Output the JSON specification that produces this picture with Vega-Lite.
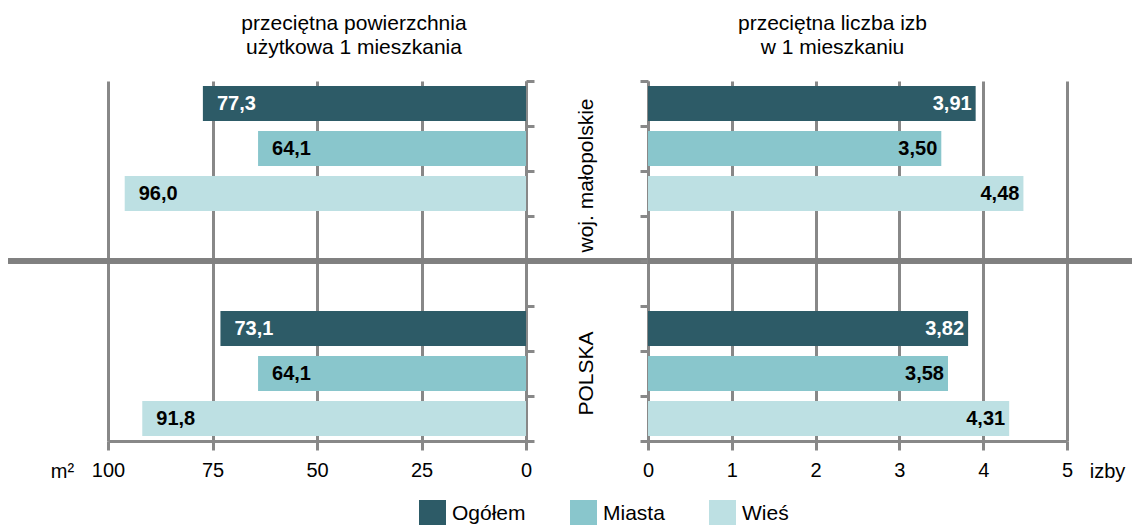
{
  "$schema": "https://vega.github.io/schema/vega-lite/v6.json",
  "padding": {"left": 5, "top": 12, "right": 0, "bottom": 0},
  "autosize": {"type": "pad"},
  "spacing": 0,
  "bounds": "flush",
  "config": {
    "locale": {"number": {"decimal": ",", "thousands": " ", "grouping": [3], "currency": ["", " zł"]}},
    "font": "Liberation Sans",
    "view": {"stroke": null},
    "axis": {
      "domainColor": "#888888", "domainWidth": 3,
      "tickColor": "#888888", "tickWidth": 3, "tickSize": 9,
      "gridColor": "#888888", "gridWidth": 3,
      "labelFont": "Liberation Sans", "labelFontSize": 20, "labelColor": "#000000", "labelFlush": false,
      "titleFont": "Liberation Sans", "titleFontSize": 20, "titleFontWeight": "normal", "titleColor": "#000000"
    },
    "title": {"font": "Liberation Sans", "fontSize": 21, "fontWeight": "normal", "color": "#000000", "lineHeight": 24}
  },
  "datasets": {
    "dane": [
      {"Region": "woj. małopolskie", "Typ": "Ogółem", "Kategoria": "woj. małopolskie|Ogółem", "pow": 77.3, "izby": 3.91},
      {"Region": "woj. małopolskie", "Typ": "Miasta", "Kategoria": "woj. małopolskie|Miasta", "pow": 64.1, "izby": 3.50},
      {"Region": "woj. małopolskie", "Typ": "Wieś", "Kategoria": "woj. małopolskie|Wieś", "pow": 96.0, "izby": 4.48},
      {"Region": "POLSKA", "Typ": "Ogółem", "Kategoria": "POLSKA|Ogółem", "pow": 73.1, "izby": 3.82},
      {"Region": "POLSKA", "Typ": "Miasta", "Kategoria": "POLSKA|Miasta", "pow": 64.1, "izby": 3.58},
      {"Region": "POLSKA", "Typ": "Wieś", "Kategoria": "POLSKA|Wieś", "pow": 91.8, "izby": 4.31}
    ]
  },
  "hconcat": [
    {
      "width": 418,
      "height": 360,
      "title": {"text": ["przeciętna powierzchnia", "użytkowa 1 mieszkania"], "anchor": "middle", "dx": 37, "offset": 22},
      "data": {"name": "dane"},
      "layer": [
        {
          "mark": {"type": "bar", "height": {"band": 0.78}},
          "encoding": {
            "y": {"field": "Kategoria", "type": "nominal",
              "scale": {"domain": ["woj. małopolskie|Ogółem", "woj. małopolskie|Miasta", "woj. małopolskie|Wieś", "gap1", "gap2", "POLSKA|Ogółem", "POLSKA|Miasta", "POLSKA|Wieś"], "paddingInner": 0, "paddingOuter": 0},
              "axis": {"orient": "right", "labels": false, "title": null, "tickBand": "extent", "tickSize": 8}},
            "x": {"field": "pow", "type": "quantitative",
              "scale": {"domain": [0, 100], "reverse": true, "nice": false},
              "axis": {"values": [0, 25, 50, 75, 100], "grid": true, "title": "m²", "titleX": -46, "titleY": 36, "titleBaseline": "alphabetic", "titleAlign": "center", "titleAngle": 0, "labelPadding": 10}},
            "color": {"field": "Typ", "type": "nominal",
              "scale": {"domain": ["Ogółem", "Miasta", "Wieś"], "range": ["#2d5b67", "#89c6cc", "#bde0e3"]},
              "legend": {"orient": "none", "direction": "horizontal", "legendX": 311, "legendY": 419, "title": null, "symbolType": "square", "symbolSize": 729, "symbolStrokeWidth": 0, "symbolOpacity": 1, "labelFontSize": 21, "labelOffset": 6, "columnPadding": 44, "labelColor": "#000000", "labelFont": "Liberation Sans",
                "labelExpr": "datum.value === 'Wieś' ? '\u2003\u2003' + datum.label : datum.label"}}
          }
        },
        {
          "mark": {"type": "text", "align": "left", "baseline": "middle", "dx": 14, "fontSize": 20, "fontWeight": "bold"},
          "encoding": {
            "y": {"field": "Kategoria", "type": "nominal"},
            "x": {"field": "pow", "type": "quantitative"},
            "text": {"field": "pow", "type": "quantitative", "format": ".1f"},
            "color": {"condition": {"test": "datum.Typ === 'Ogółem'", "value": "#ffffff"}, "value": "#000000"}
          }
        },
        {
          "mark": {"type": "rule", "color": "#808080", "strokeWidth": 5},
          "encoding": {
            "y": {"datum": "gap2", "bandPosition": 0},
            "x": {"datum": 123.9},
            "x2": {"datum": -29.2}
          }
        }
      ]
    },
    {
      "width": 122,
      "height": 360,
      "data": {"values": [{}]},
      "layer": [
        {
          "mark": {"type": "text", "angle": 270, "align": "center", "baseline": "middle", "fontSize": 21, "dx": 18, "text": "woj. małopolskie"},
          "encoding": {"y": {"datum": "woj. małopolskie|Wieś",
              "scale": {"domain": ["woj. małopolskie|Ogółem", "woj. małopolskie|Miasta", "woj. małopolskie|Wieś", "gap1", "gap2", "POLSKA|Ogółem", "POLSKA|Miasta", "POLSKA|Wieś"], "paddingInner": 0, "paddingOuter": 0},
              "axis": null}}
        },
        {
          "mark": {"type": "text", "angle": 270, "align": "center", "baseline": "middle", "fontSize": 21, "text": "POLSKA"},
          "encoding": {"y": {"datum": "POLSKA|Miasta", "axis": null}}
        }
      ]
    },
    {
      "width": 419,
      "height": 360,
      "title": {"text": ["przeciętna liczba izb", "w 1 mieszkaniu"], "anchor": "middle", "dx": -25, "offset": 22},
      "data": {"name": "dane"},
      "layer": [
        {
          "mark": {"type": "bar", "height": {"band": 0.78}},
          "encoding": {
            "y": {"field": "Kategoria", "type": "nominal",
              "scale": {"domain": ["woj. małopolskie|Ogółem", "woj. małopolskie|Miasta", "woj. małopolskie|Wieś", "gap1", "gap2", "POLSKA|Ogółem", "POLSKA|Miasta", "POLSKA|Wieś"], "paddingInner": 0, "paddingOuter": 0},
              "axis": {"orient": "left", "labels": false, "title": null, "tickBand": "extent", "tickSize": 8}},
            "x": {"field": "izby", "type": "quantitative",
              "scale": {"domain": [0, 5], "nice": false},
              "axis": {"values": [0, 1, 2, 3, 4, 5], "format": "d", "grid": true, "title": "izby", "titleX": 459, "titleY": 36, "titleBaseline": "alphabetic", "titleAlign": "center", "titleAngle": 0, "labelPadding": 10}},
            "color": {"field": "Typ", "type": "nominal",
              "legend": {"orient": "none", "direction": "horizontal", "legendX": 311, "legendY": 419, "title": null, "symbolType": "square", "symbolSize": 729, "symbolStrokeWidth": 0, "symbolOpacity": 1, "labelFontSize": 21, "labelOffset": 6, "columnPadding": 44, "labelColor": "#000000", "labelFont": "Liberation Sans",
                "labelExpr": "datum.value === 'Wieś' ? '\u2003\u2003' + datum.label : datum.label"}}
          }
        },
        {
          "mark": {"type": "text", "align": "right", "baseline": "middle", "dx": -4, "fontSize": 20, "fontWeight": "bold"},
          "encoding": {
            "y": {"field": "Kategoria", "type": "nominal"},
            "x": {"field": "izby", "type": "quantitative"},
            "text": {"field": "izby", "type": "quantitative", "format": ".2f"},
            "color": {"condition": {"test": "datum.Typ === 'Ogółem'", "value": "#ffffff"}, "value": "#000000"}
          }
        },
        {
          "mark": {"type": "rule", "color": "#808080", "strokeWidth": 5},
          "encoding": {
            "y": {"datum": "gap2", "bandPosition": 0},
            "x": {"datum": 0},
            "x2": {"datum": 5.8}
          }
        }
      ]
    }
  ]
}
